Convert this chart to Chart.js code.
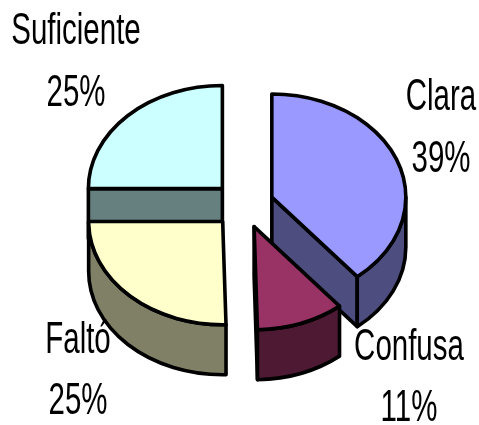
<!DOCTYPE html>
<html>
<head>
<meta charset="utf-8">
<style>
html,body{margin:0;padding:0;background:#fff}
#wrap{width:479px;height:425px;position:relative}
</style>
<script src="https://cdn.jsdelivr.net/npm/chart.js@4/dist/chart.umd.min.js"></script>
</head>
<body>
<div id="wrap"><canvas id="c" width="479" height="425"></canvas></div>
<script>
const categories = ['Clara', 'Confusa', 'Faltó', 'Suficiente'];
const shares = [39, 10.6, 25.4, 25];
const topColors = ['#9999ff', '#993366', '#ffffcc', '#ccffff'];
const wallColors = ['#4d4d80', '#4d1933', '#808066', '#668080'];
const labelAnchors = [[441, 110, 172], [409, 360, 421], [78, 353, 414], [76, 44, 106]];

const TILT = 0.77, DEPTH = 50, EXPLODE = 30, LINE = 3.6;
const paintOrder = [3, 0, 1, 2];

function geom(el, cy) {
  const mid = (el.startAngle + el.endAngle) / 2;
  return {
    x: el.x + Math.cos(mid) * EXPLODE,
    y: cy + (el.y - cy + Math.sin(mid) * EXPLODE) * TILT,
    rx: el.outerRadius,
    ry: el.outerRadius * TILT,
    s: el.startAngle,
    e: el.endAngle,
    mid
  };
}
function face(ctx, g, a) {
  const px = g.x + g.rx * Math.cos(a), py = g.y + g.ry * Math.sin(a);
  ctx.beginPath();
  ctx.moveTo(g.x, g.y);
  ctx.lineTo(px, py);
  ctx.lineTo(px, py + DEPTH);
  ctx.lineTo(g.x, g.y + DEPTH);
  ctx.closePath();
  ctx.fill();
  ctx.stroke();
}
const pie3d = {
  id: 'pie3d',
  beforeDatasetsDraw(chart) {
    const ctx = chart.ctx;
    const meta = chart.getDatasetMeta(0);
    const cx = (chart.chartArea.left + chart.chartArea.right) / 2;
    const cy = (chart.chartArea.top + chart.chartArea.bottom) / 2;
    paintOrder.forEach(i => {
      const el = meta.data[i];
      const g = geom(el, cy);
      ctx.save();
      ctx.lineWidth = LINE;
      ctx.lineJoin = 'round';
      ctx.strokeStyle = '#000';
      ctx.fillStyle = wallColors[i];
      if (-Math.cos(g.s) > 0) face(ctx, g, g.s);
      if (Math.cos(g.e) > 0) face(ctx, g, g.e);
      const a = Math.max(g.s, 0), b = Math.min(g.e, Math.PI);
      if (b > a) {
        ctx.beginPath();
        ctx.ellipse(g.x, g.y, g.rx, g.ry, 0, a, b);
        ctx.ellipse(g.x, g.y + DEPTH, g.rx, g.ry, 0, b, a, true);
        ctx.closePath();
        ctx.fill();
        ctx.stroke();
      }
      ctx.restore();

      ctx.save();
      ctx.translate(cx, cy);
      ctx.scale(1, TILT);
      ctx.translate(-cx, -cy);
      ctx.translate(Math.cos(g.mid) * EXPLODE, Math.sin(g.mid) * EXPLODE);
      el.draw(ctx);
      ctx.restore();

      ctx.save();
      ctx.lineWidth = LINE;
      ctx.lineJoin = 'round';
      ctx.strokeStyle = '#000';
      ctx.beginPath();
      ctx.moveTo(g.x, g.y);
      ctx.ellipse(g.x, g.y, g.rx, g.ry, 0, g.s, g.e);
      ctx.closePath();
      ctx.stroke();
      ctx.restore();
    });
    return false;
  },
  afterDraw(chart) {
    const ctx = chart.ctx;
    const total = shares.reduce((a, b) => a + b, 0);
    ctx.save();
    ctx.fillStyle = '#000';
    ctx.font = '44px "Liberation Sans", Arial, sans-serif';
    ctx.textAlign = 'center';
    ctx.textBaseline = 'alphabetic';
    categories.forEach((name, i) => {
      const [x, y1, y2] = labelAnchors[i];
      const pct = Math.round(shares[i] / total * 100) + '%';
      [[name, y1], [pct, y2]].forEach(([t, y]) => {
        ctx.save();
        ctx.translate(x, y);
        ctx.scale(0.67, 1);
        ctx.fillText(t, 0, 0);
        ctx.restore();
      });
    });
    ctx.restore();
  }
};
new Chart(document.getElementById('c'), {
  type: 'pie',
  data: {
    labels: categories,
    datasets: [{ data: shares, backgroundColor: topColors, borderWidth: 0, offset: 0 }]
  },
  options: {
    responsive: false,
    animation: false,
    layout: { padding: { left: 109.6, right: 101.4, top: 71, bottom: 86 } },
    plugins: { legend: { display: false }, tooltip: { enabled: false } }
  },
  plugins: [pie3d]
});
</script>
</body>
</html>
